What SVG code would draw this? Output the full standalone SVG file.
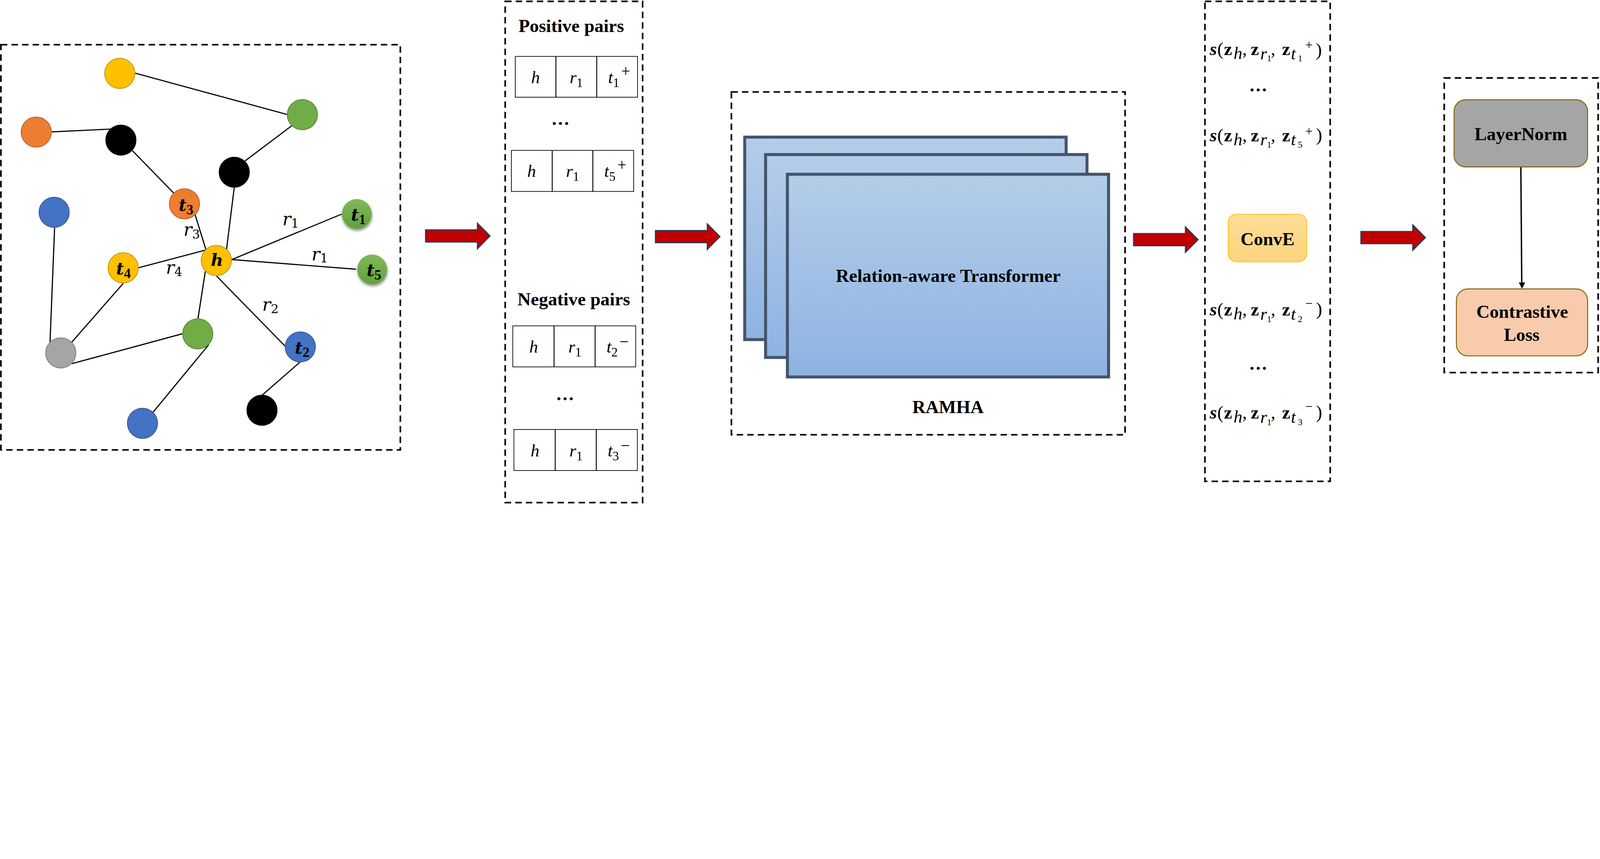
<svg xmlns="http://www.w3.org/2000/svg" width="6974" height="2200" viewBox="0 0 6974 2200" preserveAspectRatio="xMinYMin meet" style="width:100%;height:auto;display:block">
<defs>
<style>
.dash{fill:none;stroke:#000;stroke-width:7;stroke-dasharray:28 18}
.edge{stroke:#000;stroke-width:5;fill:none}
.yel{fill:#FFC000;stroke:#BC8C00;stroke-width:3}
.grn{fill:#70AD47;stroke:#507E32;stroke-width:3}
.org{fill:#ED7D31;stroke:#AE5A21;stroke-width:3}
.blu{fill:#4472C4;stroke:#2F528F;stroke-width:3}
.blk{fill:#000;stroke:#000;stroke-width:3}
.gry{fill:#A5A5A5;stroke:#787878;stroke-width:3}
.nl{font-family:"DejaVu Serif",serif;font-style:italic;font-weight:bold;font-size:74px;fill:#000}
.nd{font-family:"Liberation Serif",serif;font-style:normal;font-weight:bold;font-size:60px}
.rl{font-family:"DejaVu Serif",serif;font-style:italic;font-size:78px;fill:#000}
.hd{font-family:"Liberation Serif",serif;font-weight:bold;font-size:80px;fill:#000}
.cell{fill:#fff;stroke:#000;stroke-width:3}
.div{stroke:#000;stroke-width:4}
.ci{font-family:"Liberation Serif",serif;font-style:italic;font-size:76px;fill:#000}
.cs{font-style:normal;font-size:56px}
.cg{font-style:normal;font-size:70px}
.dots{font-family:"Liberation Serif",serif;font-weight:bold;font-size:80px;fill:#000}
.tf{fill:url(#tg);stroke:#44546A;stroke-width:13}
.mz{font-family:"Liberation Serif",serif;font-weight:bold;font-size:80px;fill:#000}
.ms{font-family:"Liberation Serif",serif;font-style:italic;font-weight:bold;font-size:80px;fill:#000}
.mi{font-family:"Liberation Serif",serif;font-style:italic;font-size:76px;fill:#000}
.md{font-family:"Liberation Serif",serif;font-size:40px;fill:#000}
.mp{font-family:"Liberation Serif",serif;font-size:80px;fill:#000}
.sg{font-family:"Liberation Serif",serif;font-size:56px;fill:#000}
.rarrow{fill:#C00000;stroke:#223F5B;stroke-width:5}
</style>
<linearGradient id="tg" x1="0" y1="0" x2="0" y2="1">
<stop offset="0" stop-color="#B5CDE9"/><stop offset="1" stop-color="#8DB3E2"/>
</linearGradient>
<linearGradient id="cg" x1="0" y1="0" x2="0" y2="1">
<stop offset="0" stop-color="#FDDD99"/><stop offset="1" stop-color="#FED47B"/>
</linearGradient>
<linearGradient id="gg" x1="0" y1="0" x2="0" y2="1">
<stop offset="0" stop-color="#80B95B"/><stop offset="1" stop-color="#62A03A"/>
</linearGradient>
<filter id="sh" x="-50%" y="-50%" width="200%" height="200%">
<feDropShadow dx="2" dy="8" stdDeviation="6" flood-color="#000" flood-opacity="0.45"/>
</filter>
<polygon id="ar" points="0,-26.5 226,-26.5 226,-55.5 281,0 226,55.5 226,26.5 0,26.5"/>
</defs>
<rect width="6974" height="2200" fill="#fff"/>

<g id="containers">
<rect class="dash" x="4" y="195" width="1741" height="1767"/>
<rect class="dash" x="2202" y="6" width="599" height="2186"/>
<rect class="dash" x="3188" y="401" width="1716" height="1495"/>
<rect class="dash" x="5252" y="6" width="546" height="2093"/>
<rect class="dash" x="6295" y="340" width="671" height="1285"/>
</g>

<g id="connectors">
<line class="edge" x1="589" y1="319" x2="1251" y2="499"/>
<line class="edge" x1="226" y1="575" x2="482" y2="563"/>
<line class="edge" x1="1272" y1="548" x2="1068" y2="702"/>
<line class="edge" x1="577" y1="657" x2="758" y2="843"/>
<line class="edge" x1="1021" y1="818" x2="987" y2="1090"/>
<line class="edge" x1="850" y1="935" x2="898" y2="1090"/>
<line class="edge" x1="603" y1="1168" x2="898" y2="1090"/>
<line class="edge" x1="1010" y1="1132" x2="1489" y2="934"/>
<line class="edge" x1="1010" y1="1132" x2="1552" y2="1174"/>
<line class="edge" x1="895" y1="1183" x2="863" y2="1389"/>
<line class="edge" x1="944" y1="1204" x2="1246" y2="1513"/>
<line class="edge" x1="238" y1="994" x2="218" y2="1493"/>
<line class="edge" x1="537" y1="1236" x2="313" y2="1492"/>
<line class="edge" x1="313" y1="1586" x2="797" y2="1455"/>
<line class="edge" x1="910" y1="1503" x2="667" y2="1798"/>
<line class="edge" x1="1309" y1="1578" x2="1143" y2="1723"/>
<line x1="6629" y1="728" x2="6633" y2="1234" stroke="#000" stroke-width="6"/>
<polygon points="6620,1232 6648,1232 6634,1259" fill="#000"/>
<use href="#ar" class="rarrow" transform="translate(1855,1029)"/>
<use href="#ar" class="rarrow" transform="translate(2857,1032)"/>
<use href="#ar" class="rarrow" transform="translate(4941,1045)"/>
<use href="#ar" class="rarrow" transform="translate(5932,1036)"/>
</g>

<g id="edge-labels">
<text class="rl" x="1231" y="982">r<tspan font-size="54" font-style="normal" dy="10">1</tspan></text>
<text class="rl" x="1358" y="1135">r<tspan font-size="54" font-style="normal" dy="10">1</tspan></text>
<text class="rl" x="800" y="1029">r<tspan font-size="54" font-style="normal" dy="12">3</tspan></text>
<text class="rl" x="723" y="1194">r<tspan font-size="54" font-style="normal" dy="10">4</tspan></text>
<text class="rl" x="1143" y="1356">r<tspan font-size="54" font-style="normal" dy="10">2</tspan></text>
</g>

<g id="n-yellow-top"><circle class="yel" cx="522" cy="320" r="66"/></g>
<g id="n-green-top"><circle class="grn" cx="1318" cy="500" r="66"/></g>
<g id="n-orange-left"><circle class="org" cx="158" cy="576" r="66"/></g>
<g id="n-black-1"><circle class="blk" cx="527" cy="611" r="66"/></g>
<g id="n-black-2"><circle class="blk" cx="1021" cy="751" r="66"/></g>
<g id="n-t3"><circle class="org" cx="804" cy="889" r="66"/><text class="nl" x="811" y="920" text-anchor="middle">t<tspan class="nd" dy="15">3</tspan></text></g>
<g id="n-blue-left"><circle class="blu" cx="236" cy="926" r="66"/></g>
<g id="n-t1"><circle cx="1555" cy="933" r="65" fill="url(#gg)" filter="url(#sh)"/><text class="nl" x="1562" y="962" text-anchor="middle">t<tspan class="nd" dy="16">1</tspan></text></g>
<g id="n-h"><circle class="yel" cx="943" cy="1136" r="66"/><text class="nl" x="946" y="1160" text-anchor="middle">h</text></g>
<g id="n-t4"><circle class="yel" cx="537" cy="1168" r="66"/><text class="nl" x="538" y="1197" text-anchor="middle">t<tspan class="nd" dy="15">4</tspan></text></g>
<g id="n-t5"><circle cx="1622" cy="1175" r="65" fill="url(#gg)" filter="url(#sh)"/><text class="nl" x="1630" y="1204" text-anchor="middle">t<tspan class="nd" dy="16">5</tspan></text></g>
<g id="n-green-mid"><circle class="grn" cx="862" cy="1456" r="66"/></g>
<g id="n-t2"><circle class="blu" cx="1309" cy="1513" r="66"/><text class="nl" x="1317" y="1542" text-anchor="middle">t<tspan class="nd" dy="15">2</tspan></text></g>
<g id="n-gray"><circle class="gry" cx="265" cy="1539" r="66"/></g>
<g id="n-black-bottom"><circle class="blk" cx="1142" cy="1789" r="66"/></g>
<g id="n-blue-bottom"><circle class="blu" cx="621" cy="1846" r="66"/></g>

<g id="positive-pairs">
<text class="hd" x="2490" y="140" text-anchor="middle">Positive pairs</text>
<rect class="cell" x="2246" y="246" width="533" height="178"/>
<line class="div" x1="2423" y1="246" x2="2423" y2="424"/><line class="div" x1="2601" y1="246" x2="2601" y2="424"/>
<text class="ci" x="2334" y="363" text-anchor="middle">h</text>
<text class="ci" x="2512" y="363" text-anchor="middle">r<tspan class="cs" dy="16">1</tspan></text>
<text class="ci" x="2699" y="363" text-anchor="middle">t<tspan class="cs" dy="16">1</tspan><tspan class="cg" dx="8" dy="-45">+</tspan></text>
<text class="dots" x="2443" y="545" text-anchor="middle">…</text>
<rect class="cell" x="2229" y="656" width="533" height="179"/>
<line class="div" x1="2407" y1="656" x2="2407" y2="835"/><line class="div" x1="2584" y1="656" x2="2584" y2="835"/>
<text class="ci" x="2317" y="772" text-anchor="middle">h</text>
<text class="ci" x="2496" y="772" text-anchor="middle">r<tspan class="cs" dy="16">1</tspan></text>
<text class="ci" x="2682" y="772" text-anchor="middle">t<tspan class="cs" dy="16">5</tspan><tspan class="cg" dx="8" dy="-45">+</tspan></text>
</g>
<g id="negative-pairs">
<text class="hd" x="2501" y="1331" text-anchor="middle">Negative pairs</text>
<rect class="cell" x="2235" y="1421" width="536" height="179"/>
<line class="div" x1="2415" y1="1421" x2="2415" y2="1600"/><line class="div" x1="2594" y1="1421" x2="2594" y2="1600"/>
<text class="ci" x="2326" y="1538" text-anchor="middle">h</text>
<text class="ci" x="2506" y="1538" text-anchor="middle">r<tspan class="cs" dy="16">1</tspan></text>
<text class="ci" x="2692" y="1538" text-anchor="middle">t<tspan class="cs" dy="16">2</tspan><tspan class="cg" dx="8" dy="-40">−</tspan></text>
<text class="dots" x="2463" y="1746" text-anchor="middle">…</text>
<rect class="cell" x="2240" y="1873" width="538" height="179"/>
<line class="div" x1="2420" y1="1873" x2="2420" y2="2052"/><line class="div" x1="2599" y1="1873" x2="2599" y2="2052"/>
<text class="ci" x="2332" y="1991" text-anchor="middle">h</text>
<text class="ci" x="2511" y="1991" text-anchor="middle">r<tspan class="cs" dy="16">1</tspan></text>
<text class="ci" x="2697" y="1991" text-anchor="middle">t<tspan class="cs" dy="16">3</tspan><tspan class="cg" dx="8" dy="-40">−</tspan></text>
</g>

<g id="ramha">
<rect class="tf" x="3246" y="598" width="1401" height="883"/>
<rect class="tf" x="3337" y="674" width="1401" height="885"/>
<rect class="tf" x="3432" y="760" width="1400" height="884"/>
<text class="hd" x="4133" y="1230" text-anchor="middle">Relation-aware Transformer</text>
<text class="hd" x="4132" y="1801" text-anchor="middle">RAMHA</text>
</g>

<g id="score-pos-1" transform="translate(0,240)">
<text class="ms" x="5273" y="0">s</text><text class="mp" x="5306" y="0" font-size="90">(</text>
<text class="mz" x="5335" y="0">z</text><text class="mi" x="5377" y="17">h</text><text class="mp" x="5415" y="0">,</text>
<text class="mz" x="5452" y="0">z</text><text class="mi" x="5493" y="18">r</text><text class="md" x="5522" y="28">1</text><text class="mp" x="5539" y="0">,</text>
<text class="mz" x="5588" y="0">z</text><text class="mi" x="5627" y="18">t</text><text class="md" x="5657" y="28">1</text>
<text class="sg" x="5690" y="-25">+</text><text class="mp" x="5735" y="4" font-size="132">)</text>
</g>
<text class="dots" x="5484" y="399" text-anchor="middle">…</text>
<g id="score-pos-5" transform="translate(0,616)">
<text class="ms" x="5273" y="0">s</text><text class="mp" x="5306" y="0" font-size="90">(</text>
<text class="mz" x="5335" y="0">z</text><text class="mi" x="5377" y="17">h</text><text class="mp" x="5415" y="0">,</text>
<text class="mz" x="5452" y="0">z</text><text class="mi" x="5493" y="18">r</text><text class="md" x="5522" y="28">1</text><text class="mp" x="5539" y="0">,</text>
<text class="mz" x="5588" y="0">z</text><text class="mi" x="5627" y="18">t</text><text class="md" x="5657" y="28">5</text>
<text class="sg" x="5690" y="-25">+</text><text class="mp" x="5736" y="-2" font-size="82">)</text>
</g>
<g id="conve">
<rect x="5353" y="934" width="343" height="208" rx="36" fill="url(#cg)" stroke="#FFC000" stroke-width="3"/>
<text class="hd" x="5525" y="1069" text-anchor="middle">ConvE</text>
</g>
<g id="score-neg-2" transform="translate(0,1376)">
<text class="ms" x="5273" y="0">s</text><text class="mp" x="5306" y="0" font-size="90">(</text>
<text class="mz" x="5335" y="0">z</text><text class="mi" x="5377" y="17">h</text><text class="mp" x="5415" y="0">,</text>
<text class="mz" x="5452" y="0">z</text><text class="mi" x="5493" y="18">r</text><text class="md" x="5522" y="28">1</text><text class="mp" x="5539" y="0">,</text>
<text class="mz" x="5588" y="0">z</text><text class="mi" x="5627" y="18">t</text><text class="md" x="5657" y="28">2</text>
<text class="sg" x="5690" y="-35">−</text><text class="mp" x="5736" y="-2" font-size="82">)</text>
</g>
<text class="dots" x="5484" y="1613" text-anchor="middle">…</text>
<g id="score-neg-3" transform="translate(0,1826)">
<text class="ms" x="5273" y="0">s</text><text class="mp" x="5306" y="0" font-size="90">(</text>
<text class="mz" x="5335" y="0">z</text><text class="mi" x="5377" y="17">h</text><text class="mp" x="5415" y="0">,</text>
<text class="mz" x="5452" y="0">z</text><text class="mi" x="5493" y="18">r</text><text class="md" x="5522" y="28">1</text><text class="mp" x="5539" y="0">,</text>
<text class="mz" x="5588" y="0">z</text><text class="mi" x="5627" y="18">t</text><text class="md" x="5657" y="28">3</text>
<text class="sg" x="5690" y="-35">−</text><text class="mp" x="5736" y="-2" font-size="82">)</text>
</g>

<g id="layernorm">
<rect x="6338" y="435" width="582" height="293" rx="50" fill="#A5A5A5" stroke="#7F6000" stroke-width="4"/>
<text class="hd" x="6629" y="612" text-anchor="middle" font-size="82">LayerNorm</text>
</g>
<g id="contrastive-loss">
<rect x="6348" y="1260" width="572" height="292" rx="50" fill="#F8CBAD" stroke="#7F6000" stroke-width="4"/>
<text class="hd" x="6635" y="1386" text-anchor="middle" font-size="82">Contrastive</text>
<text class="hd" x="6633" y="1486" text-anchor="middle" font-size="82">Loss</text>
</g>
</svg>
